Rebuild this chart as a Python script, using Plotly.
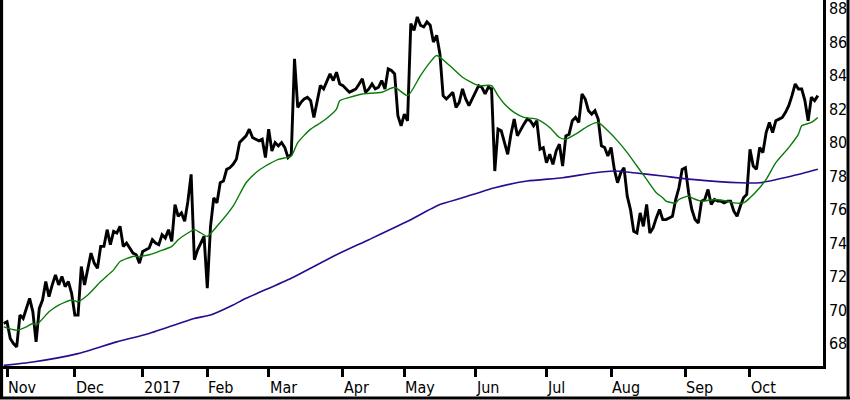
import pandas as pd
import plotly.graph_objects as go

# trading calendar (NYSE holidays removed)
holidays = ['2016-11-24', '2016-12-26', '2017-01-02', '2017-01-16', '2017-02-20',
            '2017-04-14', '2017-05-29', '2017-07-04', '2017-09-04']
days = pd.bdate_range('2016-10-31', '2017-10-31')
days = [d.strftime('%Y-%m-%d') for d in days if d.strftime('%Y-%m-%d') not in holidays]

# daily close, one value per trading day
price = [
    69.2, 69.3, 68.3, 68.0, 67.8, 69.7, 69.5, 70.1, 70.7, 69.9,
    68.1, 70.1, 70.6, 71.7, 70.8, 71.5, 72.1, 71.5, 72.0, 71.4,
    71.7, 71.0, 69.7, 69.7, 72.6, 71.5, 72.4, 73.4, 72.8, 72.5,
    73.8, 73.8, 74.8, 73.9, 74.7, 74.6, 75.0, 73.8, 74.0, 73.7,
    73.4, 73.3, 72.8, 73.5, 73.6, 73.7, 74.2, 74.0, 73.9, 74.5,
    74.3, 74.8, 74.1, 76.3, 75.6, 75.8, 75.3, 76.5, 78.1, 73.0,
    73.6, 74.0, 74.4, 71.3, 75.0, 76.7, 76.4, 77.6, 77.7, 78.4,
    78.5, 78.7, 79.0, 80.0, 80.2, 80.4, 80.8, 80.3, 80.2, 80.1,
    80.2, 79.1, 80.8, 79.5, 80.0, 79.8, 80.0, 79.7, 79.1, 79.3,
    85.0, 82.1, 82.4, 82.6, 82.7, 82.5, 81.5, 82.5, 83.4, 83.2,
    83.7, 84.1, 83.7, 84.2, 83.5, 83.4, 83.2, 83.0, 83.1, 83.2,
    83.5, 83.8, 83.0, 83.2, 83.5, 83.2, 83.3, 83.7, 83.2, 84.4,
    84.3, 84.1, 81.6, 81.0, 81.7, 81.3, 87.1, 86.7, 87.5, 87.0,
    86.9, 87.2, 87.0, 86.0, 86.4, 85.3, 82.8, 82.6, 82.8, 83.0,
    82.1, 82.4, 83.2, 82.6, 82.2, 82.6, 83.1, 83.4, 83.3, 82.9,
    83.3, 83.2, 78.3, 80.8, 80.7, 80.0, 79.3, 80.5, 81.4, 80.4,
    80.8, 81.1, 81.4, 81.3, 81.0, 81.3, 79.6, 79.7, 78.8, 79.3,
    78.7, 79.5, 79.9, 78.6, 80.4, 80.5, 81.3, 81.5, 81.2, 82.9,
    82.6, 81.9, 81.7, 81.9, 81.4, 79.8, 79.7, 79.2, 79.7, 78.4,
    77.6, 78.2, 78.5, 76.8, 76.0, 74.7, 74.6, 75.8, 75.0, 76.3,
    74.6, 74.9, 75.5, 76.0, 75.4, 75.4, 75.5, 75.6, 76.6, 77.3,
    78.4, 78.5, 77.0, 76.0, 75.4, 75.2, 76.5, 76.6, 77.2, 76.3,
    76.6, 76.5, 76.5, 76.4, 76.5, 76.5, 75.9, 75.6, 76.2, 76.7,
    76.9, 79.6, 78.6, 78.4, 79.7, 79.4, 80.6, 81.2, 80.6, 81.3,
    81.4, 81.5, 81.8, 82.2, 82.8, 83.5, 83.2, 83.2, 82.5, 81.3,
    82.7, 82.5, 82.8,
]

# short moving average, read at selected trading days
ma_short_day = [0, 4, 7, 9, 10, 14, 17, 21, 23, 26, 30, 34, 36, 40, 42, 45, 48, 52, 54, 57,
                59, 61, 63, 66, 71, 75, 78, 81, 85, 89, 91, 95, 99, 103, 104, 107, 111, 117, 121, 125,
                129, 132, 134, 138, 142, 147, 151, 153, 155, 158, 161, 165, 169, 172, 174, 177, 181, 184, 187, 190,
                193, 196, 199, 202, 204, 205, 208, 209, 212, 213, 216, 220, 224, 226, 229, 231, 234, 236, 239, 243,
                246, 247, 250, 252]
ma_short = [69.0, 68.8, 69.0, 69.2, 69.1, 69.9, 70.3, 70.6, 70.5, 70.9, 71.7, 72.4, 72.9, 73.2, 73.2, 73.3, 73.5, 73.8, 74.2, 74.6,
            74.8, 74.6, 74.4, 75.0, 76.2, 77.6, 78.2, 78.6, 79.0, 79.2, 80.0, 80.8, 81.3, 82.0, 82.5, 82.7, 82.9, 83.0, 83.3, 82.8,
            84.0, 84.8, 85.2, 84.6, 83.9, 83.4, 83.4, 82.8, 82.3, 81.8, 81.5, 81.4, 80.9, 80.3, 80.2, 80.5, 81.0, 81.2, 80.7, 80.1,
            79.4, 78.6, 77.8, 77.0, 76.7, 76.5, 76.4, 76.6, 76.8, 76.7, 76.5, 76.6, 76.5, 76.4, 76.4, 76.7, 77.3, 77.8, 78.8, 79.7,
            80.5, 81.0, 81.2, 81.5]

# long moving average
ma_long_day = [0, 9, 23, 35, 45, 59, 64, 71, 75, 89, 103, 113, 125, 135, 142, 152, 162, 173, 183, 189,
               195, 204, 213, 228, 234, 244, 252]
ma_long = [66.7, 66.9, 67.4, 68.1, 68.6, 69.5, 69.7, 70.3, 70.7, 71.9, 73.3, 74.2, 75.3, 76.3, 76.7, 77.3, 77.7, 77.9, 78.2, 78.3,
           78.2, 78.0, 77.8, 77.6, 77.6, 78.0, 78.4]

month_labels = ['Nov', 'Dec', '2017', 'Feb', 'Mar', 'Apr', 'May', 'Jun', 'Jul', 'Aug', 'Sep', 'Oct']
month_starts = ['2016-11-01', '2016-12-01', '2017-01-03', '2017-02-01', '2017-03-01', '2017-04-03',
                '2017-05-01', '2017-06-01', '2017-07-03', '2017-08-01', '2017-09-01', '2017-10-02']

fig = go.Figure()

fig.add_trace(go.Scatter(x=days, y=price, mode='lines', name='Close',
                         line=dict(color='black', width=2.9)))
fig.add_trace(go.Scatter(x=[days[d] for d in ma_long_day], y=ma_long, mode='lines', name='MA long',
                         line=dict(color='#2a0a8e', width=1.6, shape='spline', smoothing=0.6)))
fig.add_trace(go.Scatter(x=[days[d] for d in ma_short_day], y=ma_short, mode='lines', name='MA short',
                         line=dict(color='#0a7a0a', width=1.4, shape='spline', smoothing=0.6)))

fig.update_xaxes(type='category', categoryorder='array', categoryarray=days,
                 range=[-0.24, 253.6], showgrid=False, zeroline=False,
                 showline=True, linecolor='black', linewidth=3,
                 ticks='outside', ticklen=8, tickwidth=2.5, tickcolor='black',
                 tickvals=month_starts, showticklabels=False)
fig.update_yaxes(side='right', range=[66.66, 88.51], tickvals=list(range(68, 89, 2)),
                 showgrid=False, zeroline=False, showline=True, linecolor='black', linewidth=2.5,
                 ticks='', ticklabeloverflow='allow', tickfont=dict(size=16, color='black'))

# month labels sit to the right of their tick
for lab, d in zip(month_labels, month_starts):
    fig.add_annotation(x=d, y=0, xref='x', yref='paper', text=lab, showarrow=False,
                       xanchor='left', yanchor='middle', xshift=-1, yshift=-21,
                       font=dict(size=16, color='black'))

# outer frame
fig.add_shape(type='line', xref='paper', yref='paper', x0=-0.002, x1=-0.002, y0=1, y1=-0.09,
              line=dict(color='black', width=3.5))
fig.add_shape(type='line', xref='paper', yref='paper', x0=-0.004, x1=1.034, y0=-0.0874, y1=-0.0874,
              line=dict(color='black', width=3))
fig.add_shape(type='line', xref='paper', yref='paper', x0=1.0305, x1=1.0305, y0=1, y1=-0.09,
              line=dict(color='black', width=3))

fig.update_layout(
    width=850, height=400,
    margin=dict(l=3, r=27, t=0, b=34),
    plot_bgcolor='white', paper_bgcolor='white',
    font=dict(family='DejaVu Sans Condensed', size=16, color='black'),
    showlegend=False,
)

# drop the default page margin so the figure sits at the window corner
fig.write_html('out.html', config={'displayModeBar': False},
               post_script="document.body.style.margin='0';document.body.style.overflow='hidden';")
